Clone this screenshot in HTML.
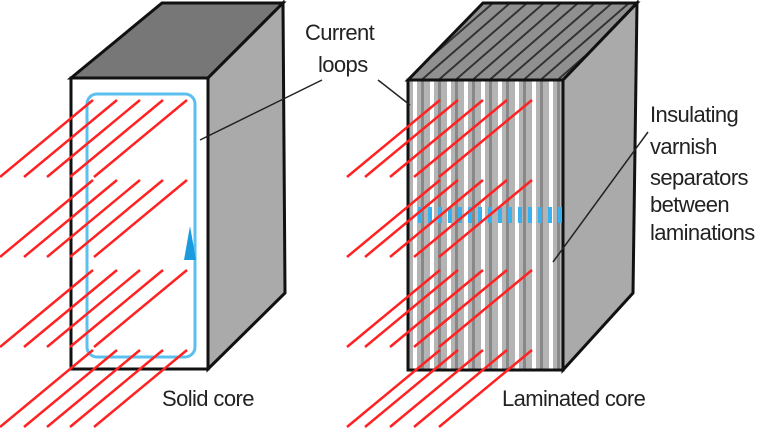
<!DOCTYPE html>
<html><head><style>body{margin:0;background:#fff}svg{display:block}text{font-family:"Liberation Sans",sans-serif;font-size:22px;fill:#222;letter-spacing:-0.6px}</style></head>
<body>
<svg width="767" height="432" viewBox="0 0 767 432" xmlns="http://www.w3.org/2000/svg">
<defs>
<pattern id="lam" x="410" y="0" width="17" height="10" patternUnits="userSpaceOnUse">
<rect width="17" height="10" fill="#b4b4b4"/><rect x="3" width="4" height="10" fill="#fff"/><rect x="11" width="3" height="10" fill="#888"/>
</pattern>
<pattern id="top" x="410" y="0" width="17" height="10" patternUnits="userSpaceOnUse" patternTransform="skewX(-49)">
<rect width="17" height="10" fill="#909090"/><rect x="0" width="3" height="10" fill="#333"/>
</pattern>
</defs>
<!-- left core -->
<polygon points="71,78 162,3 283,3 208,78" fill="#777" stroke="#111" stroke-width="3"/>
<polygon points="208,78 283,3 285,293 208,369" fill="#aaa" stroke="#111" stroke-width="3"/>
<rect x="71" y="78" width="137" height="291" fill="#fff" stroke="#111" stroke-width="3"/>
<rect x="87" y="94" width="108" height="263" rx="10" fill="none" stroke="#5bc0ee" stroke-width="3"/>
<!-- right core -->
<polygon points="408,80 483,3 637,3 563,80" fill="url(#top)" stroke="#111" stroke-width="3"/>
<polygon points="563,80 637,3 633,293 563,370" fill="#aaa" stroke="#111" stroke-width="3"/>
<rect x="408" y="80" width="155" height="290" fill="url(#lam)" stroke="#111" stroke-width="3"/>
<line x1="418" y1="215" x2="562" y2="215" stroke="#3ab0ee" stroke-width="16" stroke-dasharray="4 6"/>
<g stroke="#f22" stroke-width="2.5">
<g id="grpL">
<line x1="0" y1="177" x2="93" y2="100"/><line x1="24" y1="177" x2="117" y2="100"/><line x1="47" y1="177" x2="140" y2="100"/><line x1="70" y1="177" x2="163" y2="100"/><line x1="94" y1="177" x2="187" y2="100"/>
</g>
<use href="#grpL" y="80"/><use href="#grpL" y="170"/><use href="#grpL" y="250"/>
<g id="grpR">
<line x1="347" y1="177" x2="440" y2="100"/><line x1="365" y1="177" x2="458" y2="100"/><line x1="390" y1="177" x2="483" y2="100"/><line x1="414" y1="177" x2="507" y2="100"/><line x1="439" y1="177" x2="532" y2="100"/>
</g>
<use href="#grpR" y="80"/><use href="#grpR" y="170"/><use href="#grpR" y="250"/>
</g>
<polygon points="184,260 196,260 190,226" fill="#1a9be0"/>
<g stroke="#222" stroke-width="1.5" fill="none">
<line x1="200" y1="140" x2="322" y2="80"/><line x1="378" y1="80" x2="410" y2="105"/><line x1="553" y1="262" x2="648" y2="132"/>
</g>
<text x="305" y="40">Current</text><text x="318" y="72">loops</text>
<text x="650" y="122">Insulating</text><text x="650" y="154">varnish</text><text x="650" y="185">separators</text><text x="650" y="212">between</text><text x="650" y="240">laminations</text>
<text x="162" y="406">Solid core</text><text x="502" y="406">Laminated core</text>
</svg>
</body></html>
